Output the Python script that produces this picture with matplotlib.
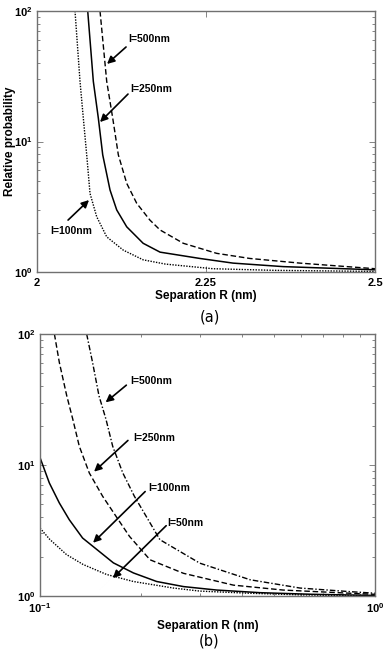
import matplotlib
matplotlib.use("Agg")
import matplotlib.pyplot as plt
from matplotlib.ticker import FixedLocator, FixedFormatter, NullLocator, NullFormatter

plt.rcParams['font.family'] = ['Liberation Sans', 'DejaVu Sans']
plt.rcParams['font.weight'] = 'bold'
plt.rcParams['mathtext.fontset'] = 'custom'
plt.rcParams['mathtext.rm'] = 'Liberation Sans:bold'
plt.rcParams['mathtext.bf'] = 'Liberation Sans:bold'
plt.rcParams['mathtext.it'] = 'Liberation Sans:bold:italic'

# ---------------- panel (a) data: separation R (nm) vs relative probability ----
a_l100_x = [2.0562, 2.0636, 2.0685, 2.0735, 2.0784, 2.0883, 2.1031, 2.1277, 2.157, 2.19, 2.26, 2.35, 2.5]
a_l100_y = [100, 28.9, 15.1, 7.9, 4.0, 2.65, 1.86, 1.47, 1.24, 1.15, 1.06, 1.03, 1.01]

a_l250_x = [2.075, 2.0833, 2.0907, 2.0972, 2.108, 2.1179, 2.1327, 2.157, 2.182, 2.241, 2.29, 2.364, 2.5]
a_l250_y = [100, 28.9, 15.1, 7.9, 4.25, 2.99, 2.22, 1.66, 1.42, 1.27, 1.17, 1.10, 1.04]

a_l500_x = [2.0932, 2.1031, 2.112, 2.1203, 2.1327, 2.1475, 2.167, 2.182, 2.2164, 2.2658, 2.315, 2.389, 2.5]
a_l500_y = [100, 28.9, 15.1, 7.9, 4.78, 3.36, 2.50, 2.10, 1.66, 1.39, 1.27, 1.17, 1.06]

a_xticks = [2, 2.25, 2.5]
a_xticklabels = ['2', '2.25', '2.5']

# ---------------- panel (b) data ----------------
b_l50_x = [0.100, 0.107, 0.120, 0.1345, 0.158, 0.19, 0.25, 0.30, 0.42, 0.6, 1.0]
b_l50_y = [3.3, 2.70, 2.07, 1.74, 1.46, 1.29, 1.15, 1.09, 1.05, 1.02, 1.0]

b_l100_x = [0.100, 0.1066, 0.1142, 0.1223, 0.134, 0.1476, 0.1656, 0.190, 0.223, 0.268, 0.337, 0.454, 0.65, 1.0]
b_l100_y = [11.4, 7.3, 5.13, 3.82, 2.77, 2.27, 1.79, 1.50, 1.29, 1.18, 1.11, 1.06, 1.03, 1.01]

b_l250_x = [0.1104, 0.1142, 0.1202, 0.1253, 0.1310, 0.1403, 0.1538, 0.1687, 0.185, 0.213, 0.268, 0.378, 0.532, 0.84, 1.0]
b_l250_y = [100, 60.7, 33.7, 22.3, 13.9, 8.7, 5.77, 4.05, 2.85, 1.89, 1.49, 1.21, 1.11, 1.05, 1.03]

b_l500_x = [0.1378, 0.1435, 0.150, 0.1574, 0.1648, 0.1766, 0.1913, 0.228, 0.30, 0.424, 0.597, 0.84, 1.0]
b_l500_y = [100, 60.7, 33.7, 22.3, 13.9, 8.71, 5.77, 2.69, 1.78, 1.33, 1.15, 1.08, 1.05]

# annotations: (label, text position, arrow tail, arrow tip) in data coords
a_labels = ['l=500nm', 'l=250nm', 'l=100nm']
a_text_xy = [(2.1346, 61), (2.1376, 25.2), (2.0192, 2.06)]
a_tail_xy = [(2.1317, 53), (2.1346, 23.1), (2.0459, 2.5)]
a_tip_xy = [(2.1036, 39.3), (2.0932, 14.1), (2.0769, 3.56)]

b_labels = ['l=500nm', 'l=250nm', 'l=100nm', 'l=50nm']
b_text_xy = [(0.186, 43.6), (0.190, 16.2), (0.210, 6.72), (0.239, 3.63)]
b_tail_xy = [(0.181, 40.7), (0.183, 15.4), (0.206, 6.27), (0.238, 3.44)]
b_tip_xy = [(0.157, 30.1), (0.145, 8.9), (0.144, 2.55), (0.165, 1.37)]

fig = plt.figure(figsize=(3.84, 6.52), dpi=100)
axa = fig.add_axes([0.0964, 0.5828, 0.8802, 0.4003])
axb = fig.add_axes([0.1042, 0.0859, 0.8724, 0.4018])

frame_col = '#707070'

def style(ax):
    for s in ax.spines.values():
        s.set_color(frame_col)
        s.set_linewidth(1.0)
    ax.tick_params(which='both', direction='in', top=True, right=True,
                   labelsize=8, colors='k', pad=3)
    ax.tick_params(axis='x', which='both', pad=4)
    ax.tick_params(which='major', length=4, width=0.6, color=frame_col)
    ax.tick_params(which='minor', length=2, width=0.6, color=frame_col)
    ax.xaxis.set_minor_formatter(NullFormatter())
    ax.yaxis.set_minor_formatter(NullFormatter())
    for lab in ax.get_xticklabels() + ax.get_yticklabels():
        lab.set_fontweight('bold')

# ---- panel a
axa.plot(a_l100_x, a_l100_y, color='k', ls=(0, (1, 1)), lw=1.0)
axa.plot(a_l250_x, a_l250_y, color='k', ls='-', lw=1.1)
axa.plot(a_l500_x, a_l500_y, color='k', ls=(0, (4, 2)), lw=1.0)
axa.set_yscale('log')
axa.set_xlim(2, 2.5)
axa.set_ylim(1, 100)
axa.xaxis.set_major_locator(FixedLocator(a_xticks))
axa.xaxis.set_major_formatter(FixedFormatter(a_xticklabels))
axa.xaxis.set_minor_locator(NullLocator())
axa.set_xlabel('Separation R (nm)', fontsize=8.5, fontweight='bold', labelpad=2)
axa.set_ylabel('Relative probability', fontsize=8.5, fontweight='bold')
axa.yaxis.set_label_coords(-0.062, 0.5)
style(axa)

for lab, t, tail, tip in zip(a_labels, a_text_xy, a_tail_xy, a_tip_xy):
    axa.text(t[0], t[1], lab, fontsize=7.5, fontweight='bold', ha='left', va='center')
    axa.annotate('', xy=tip, xytext=tail,
                 arrowprops=dict(arrowstyle='-|>', color='k', lw=1.2,
                                 mutation_scale=11, shrinkA=0, shrinkB=0))

# ---- panel b
axb.plot(b_l50_x, b_l50_y, color='k', ls=(0, (1, 1)), lw=1.0)
axb.plot(b_l100_x, b_l100_y, color='k', ls='-', lw=1.1)
axb.plot(b_l250_x, b_l250_y, color='k', ls=(0, (4, 2)), lw=1.0)
axb.plot(b_l500_x, b_l500_y, color='k', ls=(0, (4, 1.5, 1, 1.5)), lw=1.0)
axb.set_xscale('log')
axb.set_yscale('log')
axb.set_xlim(0.1, 1)
axb.set_ylim(1, 100)
axb.set_xlabel('Separation R (nm)', fontsize=8.5, fontweight='bold', labelpad=3)
style(axb)

for lab, t, tail, tip in zip(b_labels, b_text_xy, b_tail_xy, b_tip_xy):
    axb.text(t[0], t[1], lab, fontsize=7.5, fontweight='bold', ha='left', va='center')
    axb.annotate('', xy=tip, xytext=tail,
                 arrowprops=dict(arrowstyle='-|>', color='k', lw=1.2,
                                 mutation_scale=11, shrinkA=0, shrinkB=0))

fig.text(0.547, 1 - 317 / 652, '(a)', fontsize=10.5, fontweight='normal',
         family='DejaVu Sans', ha='center', va='center')
fig.text(0.544, 1 - 641 / 652, '(b)', fontsize=10.5, fontweight='normal',
         family='DejaVu Sans', ha='center', va='center')

fig.savefig('out.png', dpi=100)
